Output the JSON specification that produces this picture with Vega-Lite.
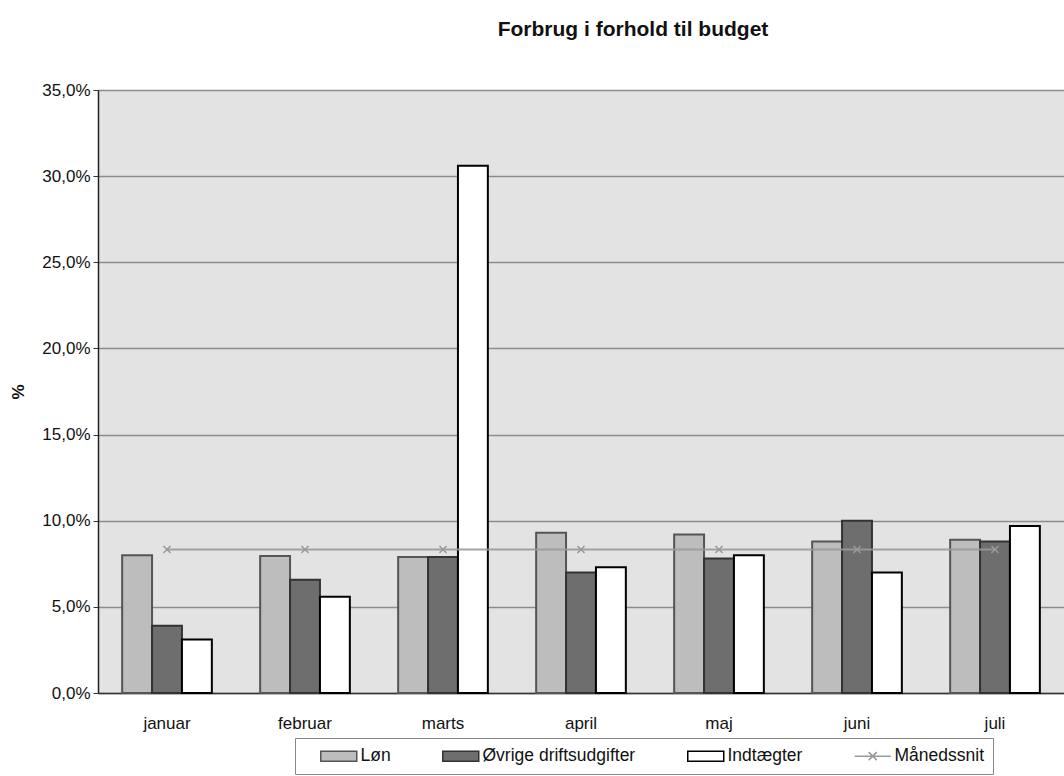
{
  "$schema": "https://vega.github.io/schema/vega-lite/v6.json",
  "width": 966,
  "height": 603,
  "autosize": {"type": "none"},
  "padding": {"left": 98, "top": 90, "right": 0, "bottom": 83},
  "background": "white",
  "title": {
    "text": "Forbrug i forhold til budget",
    "font": "Liberation Sans",
    "fontSize": 21,
    "fontWeight": "bold",
    "color": "#111111",
    "offset": 41,
    "dx": 52
  },
  "config": {
    "view": {"fill": "#e3e3e3", "stroke": "#8a8a8a", "strokeWidth": 1},
    "font": "Liberation Sans"
  },
  "datasets": {
    "bars": [
      {"month": "januar", "series": "Løn", "value": 0.080},
      {"month": "januar", "series": "Øvrige driftsudgifter", "value": 0.039},
      {"month": "januar", "series": "Indtægter", "value": 0.031},
      {"month": "februar", "series": "Løn", "value": 0.0795},
      {"month": "februar", "series": "Øvrige driftsudgifter", "value": 0.0657},
      {"month": "februar", "series": "Indtægter", "value": 0.0558},
      {"month": "marts", "series": "Løn", "value": 0.079},
      {"month": "marts", "series": "Øvrige driftsudgifter", "value": 0.079},
      {"month": "marts", "series": "Indtægter", "value": 0.306},
      {"month": "april", "series": "Løn", "value": 0.093},
      {"month": "april", "series": "Øvrige driftsudgifter", "value": 0.070},
      {"month": "april", "series": "Indtægter", "value": 0.073},
      {"month": "maj", "series": "Løn", "value": 0.092},
      {"month": "maj", "series": "Øvrige driftsudgifter", "value": 0.078},
      {"month": "maj", "series": "Indtægter", "value": 0.080},
      {"month": "juni", "series": "Løn", "value": 0.088},
      {"month": "juni", "series": "Øvrige driftsudgifter", "value": 0.100},
      {"month": "juni", "series": "Indtægter", "value": 0.070},
      {"month": "juli", "series": "Løn", "value": 0.089},
      {"month": "juli", "series": "Øvrige driftsudgifter", "value": 0.088},
      {"month": "juli", "series": "Indtægter", "value": 0.097}
    ],
    "avg": [
      {"month": "januar", "series": "Månedssnit", "value": 0.0833},
      {"month": "februar", "series": "Månedssnit", "value": 0.0833},
      {"month": "marts", "series": "Månedssnit", "value": 0.0833},
      {"month": "april", "series": "Månedssnit", "value": 0.0833},
      {"month": "maj", "series": "Månedssnit", "value": 0.0833},
      {"month": "juni", "series": "Månedssnit", "value": 0.0833},
      {"month": "juli", "series": "Månedssnit", "value": 0.0833}
    ]
  },
  "encoding": {
    "x": {
      "field": "month",
      "type": "nominal",
      "sort": ["januar", "februar", "marts", "april", "maj", "juni", "juli"],
      "scale": {"paddingInner": 0.35, "paddingOuter": 0.175},
      "axis": {
        "title": null,
        "labelAngle": 0,
        "labelFontSize": 17,
        "labelColor": "#111111",
        "labelPadding": 22,
        "ticks": false,
        "domainColor": "#333333",
        "domainWidth": 1.5,
        "grid": false
      }
    },
    "y": {
      "field": "value",
      "type": "quantitative",
      "scale": {"domain": [0, 0.35], "nice": false},
      "axis": {
        "title": "%",
        "titleFontSize": 17,
        "titleFontWeight": "bold",
        "titleColor": "#111111",
        "titlePadding": 14,
        "values": [0, 0.05, 0.1, 0.15, 0.2, 0.25, 0.3, 0.35],
        "labelExpr": "replace(format(datum.value, '.1%'), '.', ',')",
        "labelFontSize": 17,
        "labelColor": "#111111",
        "labelPadding": 3,
        "tickSize": 5,
        "tickColor": "#333333",
        "domainColor": "#222222",
        "domainWidth": 1.5,
        "gridColor": "#8c8c8c",
        "gridWidth": 1.5
      }
    }
  },
  "layer": [
    {
      "data": {"name": "bars"},
      "mark": {"type": "bar", "strokeWidth": 2},
      "encoding": {
        "xOffset": {"field": "series", "type": "nominal", "sort": ["Løn", "Øvrige driftsudgifter", "Indtægter"], "scale": {"paddingInner": 0}},
        "fill": {
          "field": "series",
          "type": "nominal",
          "scale": {
            "domain": ["Løn", "Øvrige driftsudgifter", "Indtægter", "Månedssnit"],
            "range": ["#bdbdbd", "#6e6e6e", "#ffffff", "transparent"]
          },
          "legend": {
            "title": null,
            "orient": "none",
            "legendX": 197,
            "legendY": 648,
            "direction": "horizontal",
            "padding": 9,
            "strokeColor": "#888888",
            "fillColor": "#ffffff",
            "labelFontSize": 17.5,
            "labelColor": "#111111",
            "symbolSize": 100,
            "symbolStrokeWidth": 1.5,
            "symbolOffset": 26,
            "labelOffset": 13,
            "columnPadding": 35,
            "encode": {
              "symbols": {
                "update": {
                  "shape": {"signal": "datum.value === 'Månedssnit' ? 'M-3.6,0H3.6M-0.8,-0.8L0.8,0.8M-0.8,0.8L0.8,-0.8' : 'M-3.6,-1H3.6V1H-3.6Z'"}
                }
              }
            }
          }
        },
        "stroke": {
          "field": "series",
          "type": "nominal",
          "scale": {
            "domain": ["Løn", "Øvrige driftsudgifter", "Indtægter", "Månedssnit"],
            "range": ["#555555", "#333333", "#000000", "#999999"]
          },
          "legend": {
            "title": null,
            "orient": "none",
            "legendX": 197,
            "legendY": 648,
            "direction": "horizontal",
            "padding": 9,
            "strokeColor": "#888888",
            "fillColor": "#ffffff",
            "labelFontSize": 17.5,
            "labelColor": "#111111",
            "symbolSize": 100,
            "symbolStrokeWidth": 1.5,
            "symbolOffset": 26,
            "labelOffset": 13,
            "columnPadding": 35,
            "encode": {
              "symbols": {
                "update": {
                  "shape": {"signal": "datum.value === 'Månedssnit' ? 'M-3.6,0H3.6M-0.8,-0.8L0.8,0.8M-0.8,0.8L0.8,-0.8' : 'M-3.6,-1H3.6V1H-3.6Z'"}
                }
              }
            }
          }
        }
      }
    },
    {
      "data": {"name": "avg"},
      "mark": {"type": "line", "strokeWidth": 2, "opacity": 0.9},
      "encoding": {
        "stroke": {"field": "series", "type": "nominal"}
      }
    },
    {
      "data": {"name": "avg"},
      "mark": {"type": "point", "shape": "M-1,-1L1,1M1,-1L-1,1", "filled": false, "size": 50, "strokeWidth": 1.5, "opacity": 1},
      "encoding": {
        "stroke": {"field": "series", "type": "nominal"}
      }
    }
  ]
}
